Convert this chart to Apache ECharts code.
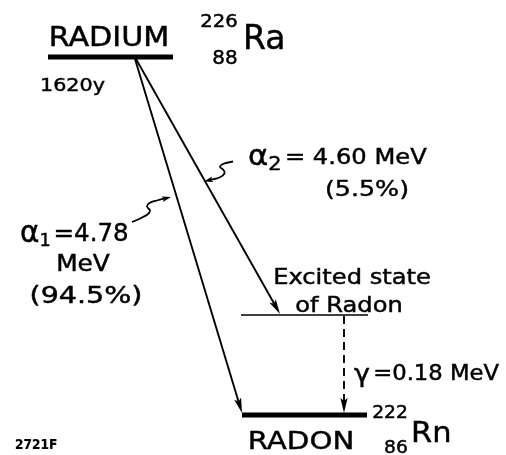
<!DOCTYPE html>
<html>
<head>
<meta charset="utf-8">
<script src="https://cdn.jsdelivr.net/npm/echarts@6/dist/echarts.min.js"></script>
<style>
  html, body { margin: 0; background: #fff; }
  #chart { width: 506px; height: 455px; }
</style>
</head>
<body>
<div id="chart"></div>
<script>
// energy levels, in diagram units (x across, y down the page)
const levelNames = ['RADIUM', 'Excited state of Radon', 'RADON'];
const levelY = [57, 315, 415];
const levelStart = [48, 241, 242];
const levelEnd = [173, 368, 367];
const levelHeavy = [1, 0, 1];

// transitions: start point -> arrow tip
const transNames = ['alpha1', 'alpha2', 'gamma'];
const transFrom = [[135, 59], [136, 59], [344, 316]];
const transTo = [[242, 413], [280, 314], [344, 413]];
const transDashed = [0, 0, 1];

// little wavy leaders from the labels to the alpha arrows
const leaderPoints = [
  [[132, 222], [140, 218.5], [147.5, 214.5], [150, 210.5], [147, 206.5], [149.5, 203], [157, 200.5], [171, 197]],
  [[233, 161.5], [223, 164], [220, 167], [223.5, 170], [224.5, 173.5], [219.5, 177.5], [204, 181.5]]
];

const alphaEnergy = [4.78, 4.60];
const alphaBranch = [94.5, 5.5];
const gammaEnergy = 0.18;
const halfLife = '1620y';

const FONT = '"DejaVu Sans", sans-serif';

function arrowHead(tip, from, len, half) {
  const dx = tip[0] - from[0], dy = tip[1] - from[1];
  const d = Math.sqrt(dx * dx + dy * dy) || 1;
  const ux = dx / d, uy = dy / d;
  const nx = -uy, ny = ux;
  const bx = tip[0] - ux * len, by = tip[1] - uy * len;
  return {
    base: [tip[0] - ux * len * 0.8, tip[1] - uy * len * 0.8],
    points: [
      tip,
      [bx + nx * half, by + ny * half],
      [tip[0] - ux * len * 0.8, tip[1] - uy * len * 0.8],
      [bx - nx * half, by - ny * half]
    ]
  };
}

function rs(size) {
  return { font: size + 'px ' + FONT, fill: '#000', stroke: '#000', lineWidth: 0.45 };
}

function txt(x, y, text, size, opts) {
  opts = opts || {};
  return {
    type: 'text',
    x: x, y: y,
    scaleX: opts.sx || 1,
    style: {
      text: text,
      font: (opts.weight || 'normal') + ' ' + size + 'px ' + FONT,
      fill: '#000',
      stroke: '#000',
      lineWidth: opts.lw == null ? 0.45 : opts.lw,
      align: opts.align || 'left',
      verticalAlign: 'middle',
      rich: opts.rich
    },
    silent: true
  };
}

const chart = echarts.init(document.getElementById('chart'));

const option = {
  animation: false,
  backgroundColor: '#fff',
  grid: { left: 0, right: 0, top: 0, bottom: 0 },
  xAxis: { type: 'value', min: 0, max: 506, show: false },
  yAxis: { type: 'value', min: 0, max: 455, inverse: true, show: false },
  series: [
    {
      name: 'levels',
      type: 'custom',
      coordinateSystem: 'cartesian2d',
      data: levelY.map((y, i) => [levelStart[i], levelEnd[i], y, levelHeavy[i]]),
      renderItem: (params, api) => {
        const p0 = api.coord([api.value(0), api.value(2)]);
        const p1 = api.coord([api.value(1), api.value(2)]);
        return {
          type: 'line',
          shape: { x1: p0[0], y1: p0[1], x2: p1[0], y2: p1[1] },
          style: { stroke: '#000', lineWidth: api.value(3) ? 5 : 1.3 }
        };
      }
    },
    {
      name: 'transitions',
      type: 'custom',
      coordinateSystem: 'cartesian2d',
      data: transFrom.map((f, i) => [f[0], f[1], transTo[i][0], transTo[i][1], transDashed[i]]),
      renderItem: (params, api) => {
        const p0 = api.coord([api.value(0), api.value(1)]);
        const p1 = api.coord([api.value(2), api.value(3)]);
        const head = arrowHead(p1, p0, 15, 3.6);
        return {
          type: 'group',
          children: [
            {
              type: 'line',
              shape: { x1: p0[0], y1: p0[1], x2: head.base[0], y2: head.base[1] },
              style: {
                stroke: '#000', lineWidth: 1.9,
                lineDash: api.value(4) ? [8, 5] : null
              }
            },
            { type: 'polygon', shape: { points: head.points }, style: { fill: '#000' } }
          ]
        };
      }
    },
    {
      name: 'leaders',
      type: 'custom',
      coordinateSystem: 'cartesian2d',
      data: leaderPoints.map((pts, i) => [pts[0][0], pts[0][1], i]),
      renderItem: (params, api) => {
        const pts = leaderPoints[api.value(2)].map(p => api.coord(p));
        const n = pts.length;
        const head = arrowHead(pts[n - 1], pts[n - 2], 9, 2.8);
        return {
          type: 'group',
          children: [
            {
              type: 'polyline',
              shape: { points: pts.slice(0, n - 1).concat([head.base]), smooth: 0.3 },
              style: { stroke: '#000', lineWidth: 1.8, fill: null }
            },
            { type: 'polygon', shape: { points: head.points }, style: { fill: '#000' } }
          ]
        };
      }
    }
  ],
  graphic: [
    txt(109, 39, levelNames[0], 26, { align: 'center', sx: 1.16 }),
    txt(219, 23, '226', 17, { align: 'center', sx: 1.15 }),
    txt(225, 59, '88', 19, { align: 'center', sx: 1.05 }),
    txt(243, 40, 'Ra', 33),
    txt(40, 86, halfLife, 18, { sx: 1.15 }),

    txt(248, 158, '{a|α}{s|2}{t|= ' + alphaEnergy[1].toFixed(2) + ' MeV}', 22, {
      sx: 1.1,
      rich: {
        a: rs(28),
        s: Object.assign(rs(19), { padding: [14, 3, 0, 0] }),
        t: rs(22)
      }
    }),
    txt(367, 190, '(' + alphaBranch[1] + '%)', 22, { align: 'center', sx: 1.15 }),

    txt(20, 234, '{a|α}{s|1}{t|=' + alphaEnergy[0].toFixed(2) + '}', 25, {
      sx: 0.98,
      rich: {
        a: rs(30),
        s: Object.assign(rs(18), { padding: [14, 3, 0, 0] }),
        t: rs(25)
      }
    }),
    txt(83, 265, 'MeV', 23, { align: 'center', sx: 1.08 }),
    txt(86, 297, '(' + alphaBranch[0] + '%)', 23, { align: 'center', sx: 1.24 }),

    txt(352, 279, 'Excited state', 21, { align: 'center', sx: 1.15 }),
    txt(349, 307, 'of Radon', 21, { align: 'center', sx: 1.15 }),
    txt(354, 375, '{g|γ}{t|=' + gammaEnergy.toFixed(2) + ' MeV}', 21, {
      sx: 1.08,
      rich: { g: Object.assign(rs(25), { padding: [0, 3, 0, 0] }), t: rs(21) }
    }),

    txt(301, 442, levelNames[2], 25, { align: 'center', sx: 1.17 }),
    txt(390, 414, '222', 17, { align: 'center', sx: 1.1 }),
    txt(396, 449, '86', 17, { align: 'center', sx: 1.1 }),
    txt(411, 434, 'Rn', 29, { sx: 1.05 }),
    txt(15, 445, '2721F', 14, { weight: 'bold', sx: 0.87, lw: 0.2 })
  ]
};

chart.setOption(option);
window.addEventListener('resize', () => chart.resize());
</script>
</body>
</html>
